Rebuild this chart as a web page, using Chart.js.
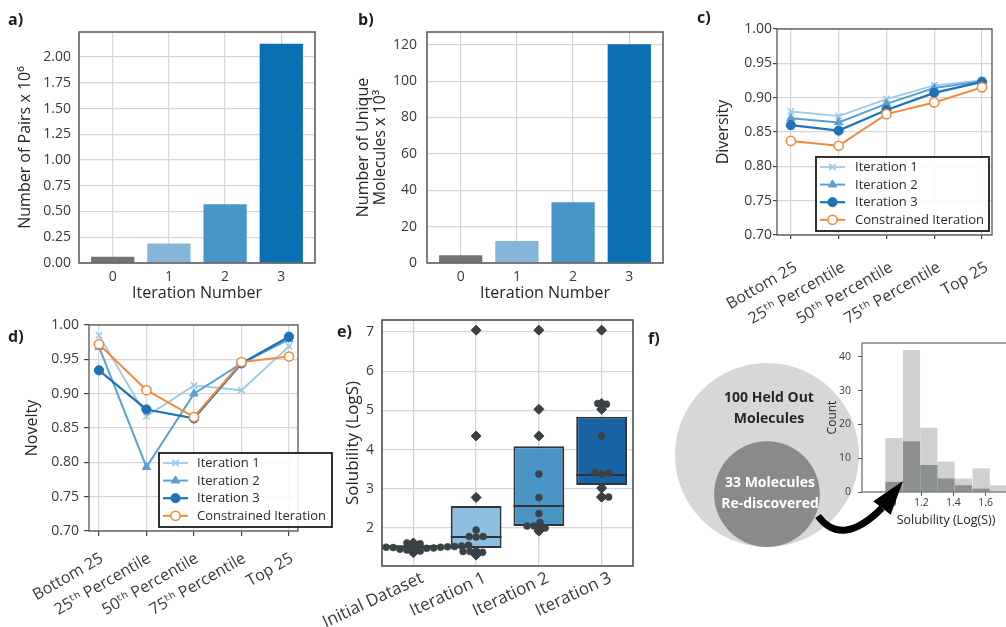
<!DOCTYPE html>
<html><head><meta charset="utf-8">
<script src="https://cdn.jsdelivr.net/npm/chart.js@4.4.1/dist/chart.umd.min.js"></script>
<style>
html,body{margin:0;padding:0;background:#fff;}
body{width:1006px;height:627px;overflow:hidden;position:relative;font-family:"Open Sans","DejaVu Sans",sans-serif;}
canvas{position:absolute;}
.lbl{position:absolute;font-weight:700;font-size:16px;line-height:16px;color:#1e1e1e;z-index:5;}
.venn{position:absolute;font-weight:700;font-size:14px;text-align:center;line-height:21px;transform:translate(-50%,-50%);white-space:nowrap;z-index:5;}
</style></head><body>
<div class="lbl" style="left:8px;top:11px">a)</div>
<div class="lbl" style="left:358px;top:11px">b)</div>
<div class="lbl" style="left:697px;top:9px">c)</div>
<div class="lbl" style="left:8px;top:328px">d)</div>
<div class="lbl" style="left:337px;top:323px">e)</div>
<div class="lbl" style="left:648px;top:330px">f)</div>
<div class="venn" id="vennBig" style="left:769px;top:407px;color:#262626"></div>
<div class="venn" id="vennSmall" style="left:770px;top:492px;color:#ffffff"></div>
<script>
// ---------------- DATA ----------------
const iterNums = ['0', '1', '2', '3'];
const pairsMillions = [0.06, 0.19, 0.57, 2.13];
const uniqueThousands = [4.2, 12.1, 33.4, 120.2];

const pctLabels = ['Bottom 25', '25ᵗʰ Percentile', '50ᵗʰ Percentile', '75ᵗʰ Percentile', 'Top 25'];
const seriesNames = ['Iteration 1', 'Iteration 2', 'Iteration 3', 'Constrained Iteration'];
const divIter1 = [0.880, 0.873, 0.898, 0.918, 0.925];
const divIter2 = [0.870, 0.864, 0.891, 0.914, 0.924];
const divIter3 = [0.860, 0.852, 0.882, 0.907, 0.923];
const divConstr = [0.837, 0.830, 0.876, 0.893, 0.915];
const novIter1 = [0.985, 0.867, 0.912, 0.905, 0.969];
const novIter2 = [0.968, 0.793, 0.900, 0.944, 0.979];
const novIter3 = [0.934, 0.877, 0.864, 0.944, 0.983];
const novConstr = [0.972, 0.905, 0.866, 0.946, 0.954];

const boxLabels = ['Initial Dataset', 'Iteration 1', 'Iteration 2', 'Iteration 3'];
const boxQ1 = [1.48, 1.49, 2.05, 3.10];
const boxMed = [1.52, 1.77, 2.56, 3.35];
const boxQ3 = [1.56, 2.56, 4.09, 4.84];
const solInitial = [1.62, 1.60, 1.58, 1.57, 1.56, 1.55, 1.54, 1.54, 1.53, 1.53, 1.52, 1.52, 1.51, 1.51, 1.50, 1.49, 1.48, 1.46, 1.44, 1.41, 1.37];
const solIter1 = [7.05, 4.35, 2.78, 1.95, 1.78, 1.77, 1.78, 1.40, 1.38, 1.40, 1.31];
const solIter2 = [7.05, 5.03, 4.35, 3.38, 2.78, 2.37, 2.14, 2.05, 2.05, 2.00, 1.92];
const solIter3 = [7.05, 5.18, 5.16, 5.03, 4.35, 3.42, 3.38, 3.40, 3.02, 2.79, 2.79];

const vennCounts = [100, 33];
const vennTexts = [['100 Held Out', 'Molecules'], ['33 Molecules', 'Re-discovered']];
const histBinCenters = [1.030, 1.139, 1.247, 1.354, 1.463, 1.573, 1.679];
const histAll = [16, 42, 19, 9, 4, 7, 2];
const histRediscovered = [3, 15, 8, 4, 2, 1, 0];

// ---------------- STYLE ----------------
const barColors = ['#6f7477', '#85b5d9', '#4995c7', '#0b70b2'];
const seriesStyle = [
  {color: '#9ccae9', point: 'crossRot', r: 4.5, fill: '#9ccae9', bw: 1.6, lw: 1.8},
  {color: '#59a0d5', point: 'triangle', r: 4.8, fill: '#59a0d5', bw: 1, lw: 2},
  {color: '#1f73b4', point: 'circle', r: 4.6, fill: '#1f73b4', bw: 1, lw: 2.2},
  {color: '#f5883a', point: 'circle', r: 4.6, fill: '#ffffff', bw: 1.5, lw: 2}
];
const boxColors = ['#70767a', '#8dbfe0', '#4a94c6', '#1763a4'];
const darkInk = '#2c3539';
const gridCol = '#d6d6d6';
const tickCol = '#3a3a3a';
const FONT = '"Open Sans", "DejaVu Sans", sans-serif';

Chart.defaults.font.family = FONT;
Chart.defaults.color = tickCol;
Chart.defaults.animation = false;
Chart.defaults.events = [];
Chart.defaults.plugins.legend.display = false;
Chart.defaults.plugins.tooltip.enabled = false;

// ---------------- PLUGINS ----------------
const framePlugin = {
  id: 'frame',
  afterDatasetsDraw(chart, args, o) {
    if (!o || !o.color) return;
    const {left, top, right, bottom} = chart.chartArea;
    const ctx = chart.ctx;
    ctx.save();
    ctx.strokeStyle = o.color; ctx.lineWidth = o.width;
    ctx.strokeRect(left, top, right - left, bottom - top);
    ctx.restore();
  }
};
function drawMarker(ctx, style, r, bw, x, y) {
  if (Chart.helpers && Chart.helpers.drawPoint) {
    Chart.helpers.drawPoint(ctx, {pointStyle: style, radius: r, rotation: 0, borderWidth: bw}, x, y);
    return;
  }
  ctx.beginPath(); ctx.arc(x, y, r, 0, Math.PI * 2); ctx.fill(); ctx.stroke();
}
const boxLegendPlugin = {
  id: 'boxLegend',
  afterDraw(chart, args, o) {
    if (!o || o.bx === undefined) return;
    const ctx = chart.ctx;
    ctx.save();
    ctx.fillStyle = 'rgba(255,255,255,0.88)';
    ctx.fillRect(o.bx, o.by, o.bw, o.bh);
    ctx.lineWidth = 1.8; ctx.strokeStyle = '#1b1b1b';
    ctx.strokeRect(o.bx, o.by, o.bw, o.bh);
    chart.data.datasets.forEach((ds, i) => {
      const cy = o.by + o.first + i * o.rowH;
      ctx.strokeStyle = ds.borderColor; ctx.lineWidth = ds.borderWidth;
      ctx.beginPath(); ctx.moveTo(o.bx + o.l0, cy); ctx.lineTo(o.bx + o.l1, cy); ctx.stroke();
      ctx.fillStyle = ds.pointBackgroundColor; ctx.strokeStyle = ds.pointBorderColor; ctx.lineWidth = ds.pointBorderWidth;
      drawMarker(ctx, ds.pointStyle, ds.pointRadius, ds.pointBorderWidth, o.bx + (o.l0 + o.l1) / 2, cy);
      ctx.fillStyle = '#2b2b2b'; ctx.font = '13px ' + FONT; ctx.textBaseline = 'middle'; ctx.textAlign = 'left';
      ctx.fillText(ds.label, o.bx + o.tx, cy + 0.5);
    });
    ctx.restore();
  }
};
const arrowPlugin = {
  id: 'arrow',
  afterDraw(chart, args, o) {
    if (!o || o.x0 === undefined) return;
    const ctx = chart.ctx;
    ctx.save();
    ctx.strokeStyle = '#000'; ctx.fillStyle = '#000'; ctx.lineWidth = 7; ctx.lineCap = 'butt';
    ctx.beginPath(); ctx.moveTo(o.x0, o.y0); ctx.quadraticCurveTo(o.cx, o.cy, o.x1, o.y1); ctx.stroke();
    ctx.beginPath(); ctx.moveTo(o.tx, o.ty); ctx.lineTo(o.ax, o.ay); ctx.lineTo(o.bx, o.by); ctx.closePath(); ctx.fill();
    ctx.restore();
  }
};
Chart.register(framePlugin, boxLegendPlugin, arrowPlugin);

// ---------------- HELPERS ----------------
function makeChart(box, area, cfg) {
  const c = document.createElement('canvas');
  c.width = box.w; c.height = box.h;
  c.style.left = box.x + 'px'; c.style.top = box.y + 'px';
  c.style.width = box.w + 'px'; c.style.height = box.h + 'px';
  document.body.appendChild(c);
  const yW = area.l - box.x, xH = box.y + box.h - area.b;
  cfg.options.responsive = false;
  cfg.options.maintainAspectRatio = false;
  cfg.options.layout = {autoPadding: false, padding: {left: 0, top: area.t - box.y, right: box.x + box.w - area.r, bottom: 0}};
  if (cfg.options.scales && cfg.options.scales.x && cfg.options.scales.x.display !== false) {
    cfg.options.scales.x.afterFit = s => { s.height = xH; s.paddingLeft = 0; s.paddingRight = 0; };
    cfg.options.scales.y.afterFit = s => { s.width = yW; s.paddingTop = 0; s.paddingBottom = 0; };
  } else {
    cfg.options.layout.padding = 0;
  }
  return new Chart(c, cfg);
}
function title(text, size, padObj, lh) {
  return {display: true, text, color: '#262626', font: {size, lineHeight: lh || 1.2}, padding: padObj};
}
// one tick per category index
function categoryTicks(labels) {
  return s => { s.ticks = labels.map((_, i) => ({value: i})); };
}

// ---------------- a) b) ----------------
function barPanel(box, area, values, yMax, yStep, yDec, yTitle, yTickPad) {
  return makeChart(box, area, {
    type: 'bar',
    data: {datasets: [{
      data: values.map((v, i) => ({x: i, y: v})),
      backgroundColor: barColors, borderWidth: 0,
      barPercentage: 0.77, categoryPercentage: 1
    }]},
    options: {
      scales: {
        x: {type: 'linear', min: -0.6, max: 3.6, offset: false, afterBuildTicks: categoryTicks(iterNums),
            grid: {color: gridCol, lineWidth: 1.2, drawTicks: false, offset: false}, border: {display: false},
            ticks: {autoSkip: false, font: {size: 14}, padding: 5.6, callback: v => iterNums[v] ?? ''},
            title: title('Iteration Number', 16, {top: 0, bottom: 7.4})},
        y: {min: 0, max: yMax, grid: {color: gridCol, lineWidth: 1.2, drawTicks: false}, border: {display: false},
            ticks: {stepSize: yStep, includeBounds: false, font: {size: 14}, padding: yTickPad,
                    callback: v => v.toFixed(yDec)},
            title: yTitle}
      },
      plugins: {frame: {color: '#5f5f5f', width: 1.6}}
    }
  });
}
barPanel({x: 0, y: 0, w: 330, h: 310}, {l: 79, t: 32, r: 315, b: 263}, pairsMillions, 2.243, 0.25, 2,
  title('Number of Pairs x 10⁶', 16, {top: 15.4, bottom: 0}), 8);
barPanel({x: 335, y: 0, w: 345, h: 310}, {l: 427, t: 32, r: 663, b: 263}, uniqueThousands, 127, 20, 0,
  title(['Number of Unique', 'Molecules x 10³'], 16, {top: 19.6, bottom: 0}, 1.08), 10);

// ---------------- c) d) ----------------
function linePanel(box, area, xr, series, yTitle, yTitlePad, tl, yPad, xPad, xOff, legend) {
  return makeChart(box, area, {
    type: 'line',
    data: {datasets: series.map((arr, k) => ({
      label: seriesNames[k],
      data: arr.map((v, i) => ({x: i, y: v})),
      borderColor: seriesStyle[k].color, borderWidth: seriesStyle[k].lw,
      pointStyle: seriesStyle[k].point, pointRadius: seriesStyle[k].r,
      pointBackgroundColor: seriesStyle[k].fill, pointBorderColor: seriesStyle[k].color,
      pointBorderWidth: seriesStyle[k].bw, tension: 0, order: 4 - k, clip: false
    }))},
    options: {
      scales: {
        x: {type: 'linear', min: xr[0], max: xr[1], offset: false, afterBuildTicks: categoryTicks(pctLabels),
            grid: {color: gridCol, lineWidth: 1.2, tickLength: tl, tickColor: '#444', tickWidth: 1.2}, border: {display: false},
            ticks: {autoSkip: false, minRotation: 30, maxRotation: 30,
                    font: {size: 16}, padding: xPad, labelOffset: xOff, callback: v => pctLabels[v] ?? ''}},
        y: {min: 0.70, max: 1.00,
            grid: {color: gridCol, lineWidth: 1.2, tickLength: tl, tickColor: '#444', tickWidth: 1.2}, border: {display: false},
            ticks: {stepSize: 0.05, font: {size: 14}, padding: yPad, callback: v => v.toFixed(2)},
            title: title(yTitle, 16, {top: yTitlePad, bottom: 0})}
      },
      plugins: {frame: {color: '#555', width: 1.3}, boxLegend: legend}
    }
  });
}
linePanel({x: 690, y: 0, w: 316, h: 335}, {l: 777, t: 29, r: 992, b: 235}, [-0.29, 4.21],
  [divIter1, divIter2, divIter3, divConstr], 'Diversity', 23.4, 4, 1, 19, 5,
  {bx: 126, by: 157, bw: 173, bh: 74, first: 10, rowH: 17.6, l0: 4, l1: 29, tx: 39});
linePanel({x: 0, y: 312, w: 345, h: 315}, {l: 89, t: 325, r: 298, b: 531}, [-0.21, 4.19],
  [novIter1, novIter2, novIter3, novConstr], 'Novelty', 22.4, 5, 5, 13, 3,
  {bx: 159, by: 141, bw: 173, bh: 74, first: 10, rowH: 17.6, l0: 4, l1: 29, tx: 38});

// ---------------- e) ----------------
const eArea = {l: 382, t: 320, r: 633, b: 566};
const ePxX = (eArea.r - eArea.l) / 4;
const ePxY = (eArea.b - eArea.t) / (7.31 - 1.03);
function swarm(values, D) {
  const placed = [];
  const out = new Array(values.length);
  const order = values.map((v, i) => i).sort((a, b) => values[a] - values[b]);
  for (const i of order) {
    const yp = values[i] * ePxY;
    const cands = [0];
    for (const p of placed) {
      const dy = Math.abs(p.yp - yp);
      if (dy < D) { const dx = Math.sqrt(D * D - dy * dy); cands.push(p.xp + dx, p.xp - dx); }
    }
    cands.sort((a, b) => Math.abs(a) - Math.abs(b));
    let best = 0;
    for (const c of cands) {
      if (placed.every(p => (p.xp - c) ** 2 + (p.yp - yp) ** 2 >= D * D - 0.01)) { best = c; break; }
    }
    placed.push({xp: best, yp});
    out[i] = best / ePxX;
  }
  return out;
}
const solGroups = [solInitial, solIter1, solIter2, solIter3];
const dotPts = [], flierPts = [];
solGroups.forEach((g, gi) => {
  const offs = swarm(g, 7);
  g.forEach((v, j) => {
    dotPts.push({x: gi + offs[j], y: v});
    if (v < boxQ1[gi] || v > boxQ3[gi]) flierPts.push({x: gi, y: v});
  });
});
makeChart({x: 300, y: 305, w: 350, h: 322}, eArea, {
  type: 'bar',
  data: {datasets: [
    {type: 'bar', data: boxQ1.map((q, i) => ({x: i, y: [q, boxQ3[i]]})), backgroundColor: boxColors,
     borderColor: darkInk, borderWidth: 2, borderSkipped: false, barPercentage: 0.81, categoryPercentage: 1, order: 4, grouped: false},
    {type: 'scatter', data: boxMed.map((m, i) => ({x: i, y: m})), pointStyle: 'line',
     pointRadius: ctx => { const s = ctx.chart.scales.x; return s.getPixelForValue(0.405) - s.getPixelForValue(0); },
     pointBorderColor: darkInk, pointBorderWidth: 2, order: 3},
    {type: 'scatter', data: flierPts, pointStyle: 'rectRot', pointRadius: 5, pointBackgroundColor: '#3a4246',
     pointBorderColor: '#3a4246', pointBorderWidth: 1, order: 2},
    {type: 'scatter', data: dotPts, pointStyle: 'circle', pointRadius: 3.5, pointBackgroundColor: '#3a4246',
     pointBorderColor: '#3a4246', pointBorderWidth: 0.5, order: 1}
  ]},
  options: {
    scales: {
      x: {type: 'linear', min: -0.5, max: 3.5, offset: false, afterBuildTicks: categoryTicks(boxLabels),
          grid: {color: gridCol, lineWidth: 1.3, drawTicks: false, offset: false}, border: {display: false},
          ticks: {autoSkip: false, minRotation: 25, maxRotation: 25,
                  font: {size: 17}, padding: 2, labelOffset: 9, callback: v => boxLabels[v] ?? ''}},
      y: {min: 1.03, max: 7.31, grid: {color: gridCol, lineWidth: 1.3, drawTicks: false}, border: {display: false},
          ticks: {stepSize: 1, includeBounds: false, font: {size: 14}, padding: 8},
          title: title('Solubility (LogS)', 17, {top: 42.8, bottom: 0})}
    },
    plugins: {frame: {color: '#4a4f52', width: 1.6}}
  }
});

// ---------------- f) venn ----------------
const vennK = 9.2;
makeChart({x: 662, y: 337, w: 210, h: 210}, {l: 662, t: 337, r: 872, b: 547}, {
  type: 'bubble',
  data: {datasets: [{
    data: vennCounts.map(n => ({x: 0, y: vennK * Math.sqrt(n), r: vennK * Math.sqrt(n)})),
    backgroundColor: ['#d7d7d7', '#8a8a8a'], borderWidth: 0, clip: false
  }]},
  options: {scales: {x: {display: false, min: -1, max: 1}, y: {display: false, min: 0, max: 210}}}
});
document.getElementById('vennBig').innerHTML = vennTexts[0].join('<br>');
document.getElementById('vennSmall').innerHTML = vennTexts[1].join('<br>');

// ---------------- f) histogram ----------------
makeChart({x: 810, y: 330, w: 240, h: 210}, {l: 862, t: 343, r: 1030, b: 492}, {
  type: 'bar',
  data: {datasets: [
    {data: histBinCenters.map((c, i) => ({x: c, y: histRediscovered[i]})), backgroundColor: '#8c9091',
     borderWidth: 0, barPercentage: 1.01, categoryPercentage: 1, grouped: false, order: 1},
    {data: histBinCenters.map((c, i) => ({x: c, y: histAll[i]})), backgroundColor: '#d0d0d0',
     borderWidth: 0, barPercentage: 1.01, categoryPercentage: 1, grouped: false, order: 2}
  ]},
  options: {
    scales: {
      x: {type: 'linear', min: 0.831, max: 1.877, offset: false,
          grid: {drawOnChartArea: false, tickLength: 4, tickColor: '#555', offset: false}, border: {display: false},
          ticks: {stepSize: 0.2, includeBounds: false, font: {size: 10.5}, padding: 1, callback: v => v.toFixed(1)},
          title: title('Solubility (Log(S))', 12.5, {top: 0, bottom: 12.5})},
      y: {min: 0, max: 44.1, grid: {drawOnChartArea: false, tickLength: 4, tickColor: '#555'}, border: {display: false},
          ticks: {stepSize: 10, includeBounds: false, font: {size: 10.5}, padding: 7},
          title: title('Count', 12, {top: 15.8, bottom: 0})}
    },
    plugins: {
      frame: {color: '#666', width: 1.2},
      arrow: {x0: 8, y0: 186, cx: 32, cy: 218, x1: 72, y1: 178, tx: 93, ty: 151, ax: 63.3, ay: 171.3, bx: 80.7, by: 184.7}
    }
  }
});
</script>
</body></html>
